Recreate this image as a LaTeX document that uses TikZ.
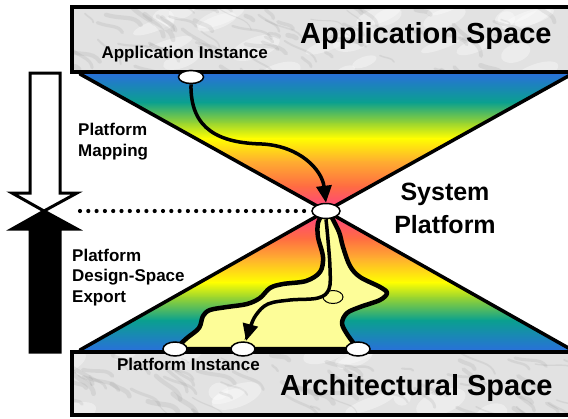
\documentclass[tikz,border=0pt]{standalone}
\usepackage{fontspec}
\setmainfont{Liberation Sans}
\usetikzlibrary{arrows.meta,shapes.geometric}
\definecolor{cblue}{HTML}{2A6EDD}
\definecolor{cteal}{HTML}{0AA08F}
\definecolor{cgreen}{HTML}{9AD530}
\definecolor{cyellow}{HTML}{FFFF00}
\definecolor{corange}{HTML}{FFAE30}
\definecolor{cred}{HTML}{FF6C42}
\definecolor{cpink}{HTML}{FF3D8A}
\definecolor{marble}{HTML}{E2E2E2}
\definecolor{vein}{HTML}{8A8A8A}
\definecolor{river}{HTML}{FDFD98}
\begin{document}
\begin{tikzpicture}[x=1pt,y=-1pt,
  edge/.style={line width=3.5pt,line cap=round},
  spacebox/.style={draw=black,line width=4pt},
  veinline/.style={vein,opacity=0.15,line cap=round},
  blotch/.style={white,opacity=0.35},
  inst/.style={ellipse,draw=black,line width=1.5pt,fill=white,minimum width=25pt,minimum height=13pt,inner sep=0pt},
  lbl/.style={font=\fontsize{17}{20.5}\selectfont\bfseries,align=left,inner sep=0pt},
  big/.style={font=\fontsize{29}{33}\selectfont\bfseries,inner sep=0pt},
  flow/.style={line width=3.5pt,-{Triangle[length=17pt,width=15pt]}},
  bigarrow/.style={line width=3pt,line join=miter}]
\path[use as bounding box] (0,0) rectangle (568,418);
\clip (0,0) rectangle (568,418);
% top triangle gradient
\begin{scope}
\clip (78,73) -- (326,211) -- (574,73) -- cycle;
\shade[top color=cblue,bottom color=cteal] (70,72) rectangle (580,102.5);
\shade[top color=cteal,bottom color=cgreen] (70,102) rectangle (580,123.5);
\shade[top color=cgreen,bottom color=cyellow] (70,123) rectangle (580,138.5);
\shade[top color=cyellow,bottom color=corange] (70,138) rectangle (580,161.5);
\shade[top color=corange,bottom color=cred] (70,161) rectangle (580,186.5);
\shade[top color=cred,bottom color=cpink] (70,186) rectangle (580,212);
\end{scope}
% bottom triangle gradient
\begin{scope}
\clip (78,351) -- (326,211) -- (574,351) -- cycle;
\shade[top color=cpink,bottom color=cred] (70,210) rectangle (580,238.5);
\shade[top color=cred,bottom color=corange] (70,238) rectangle (580,258.5);
\shade[top color=corange,bottom color=cyellow] (70,258) rectangle (580,282.5);
\shade[top color=cyellow,bottom color=cgreen] (70,282) rectangle (580,297.5);
\shade[top color=cgreen,bottom color=cteal] (70,297) rectangle (580,320.5);
\shade[top color=cteal,bottom color=cblue] (70,320) rectangle (580,352);
\end{scope}
% triangle edges
\draw[edge] (80,74) -- (326,211) -- (572,74);
\draw[edge] (80,350) -- (326,211) -- (572,350);
% space boxes (marble)
\fill[marble] (72,7) rectangle (590,72);
\fill[marble] (72,352) rectangle (590,415);
\begin{scope}
\clip (72,7) rectangle (590,72) (72,352) rectangle (590,415);
\pgfmathsetseed{11}
\foreach \i in {1,...,40}{
  \pgfmathsetmacro{\xa}{60+rnd*520}
  \pgfmathsetmacro{\ya}{rnd<0.5 ? 5+rnd*70 : 350+rnd*68}
  \pgfmathsetmacro{\rx}{8+rnd*22}
  \pgfmathsetmacro{\ry}{4+rnd*8}
  \fill[blotch] (\xa,\ya) ellipse [x radius=\rx, y radius=\ry, rotate=20];
}
\foreach \i in {1,...,150}{
  \pgfmathsetmacro{\xa}{60+rnd*520}
  \pgfmathsetmacro{\ya}{rnd<0.5 ? 5+rnd*70 : 350+rnd*68}
  \pgfmathsetmacro{\ang}{10+rnd*40}
  \pgfmathsetmacro{\len}{8+rnd*35}
  \pgfmathsetmacro{\lw}{1+rnd*4}
  \draw[veinline,line width=\lw pt] (\xa,\ya) .. controls ++(\ang:\len/2) and ++(\ang+40:-\len/3) .. ++(\ang:\len);
}
\end{scope}
\draw[spacebox] (72,7) rectangle (590,72);
\draw[spacebox] (72,352) rectangle (590,415);
% river
\filldraw[draw=black,line width=4.5pt,fill=river,line join=round]
  plot[smooth,tension=0.55] coordinates {(175,349) (187,338) (199,328) (203,316) (210,310) (227,307) (247,304) (260,298) (270,288) (283,284) (306,281) (320,272) (323,257) (318,237) (318,223) (323,213)}
  -- plot[smooth,tension=0.55] coordinates {(330,214) (339,232) (343,247) (350,266) (360,277) (380,287) (387,293) (380,300) (360,307) (347,313) (342,323) (347,334) (358,349)}
  -- cycle;
% nodes
\node[inst] (appinst) at (191,77) {};
\node[inst,minimum width=28pt,minimum height=15pt] (apex) at (326,211) {};
\node[inst,minimum width=24pt,minimum height=14pt] (pinstA) at (175,349) {};
\node[inst,minimum width=24pt,minimum height=14pt] (pinstB) at (243,349) {};
\node[inst,minimum width=24pt,minimum height=14pt] (pinstC) at (358,349) {};
\node[ellipse,draw=black,line width=1pt,minimum width=20pt,minimum height=13pt,inner sep=0pt] (choice) at (333,297) {};
% flows
\draw[flow] (appinst.south) .. controls (190,130) and (220,143) .. (262,144) .. controls (300,146) and (322,170) .. (apex.north);
\draw[flow] plot[smooth,tension=0.6] coordinates {(apex.south) (328,240) (330,268) (329,289) (318,298) (290,300) (268,304) (256,315) (250,328) (246,341)};
% dotted line
\coordinate (dotstart) at (80,211);
\draw[line width=4.2pt,line cap=round,dash pattern=on 0pt off 8.3pt] (dotstart) -- (apex.west);
% big arrows
\filldraw[bigarrow,fill=white] (30,73) -- (60,73) -- (60,193) -- (77,193) -- (44,211) -- (12,193) -- (30,193) -- cycle;
\filldraw[bigarrow,fill=black] (30,352) -- (60,352) -- (60,229) -- (77,229) -- (44,211) -- (12,229) -- (30,229) -- cycle;
% texts
\node[big,anchor=base west] (appspace) at (300,43) {Application Space};
\node[big,anchor=base west] (archspace) at (280,395) {Architectural Space};
\node[lbl,anchor=base east] (appinstlbl) at (268,58) {Application Instance};
\node[lbl,anchor=base east] (pinstlbl) at (260,370) {Platform Instance};
\node[lbl,anchor=base west] (maplbl) at (78,156) {Platform\\Mapping};
\node[lbl,anchor=base west] (explbl) at (72,302) {Platform\\Design-Space\\Export};
\node[font=\fontsize{25}{33}\selectfont\bfseries,align=center,inner sep=0pt,anchor=base] (syslbl) at (445,233) {System\\Platform};
\end{tikzpicture}
\end{document}
